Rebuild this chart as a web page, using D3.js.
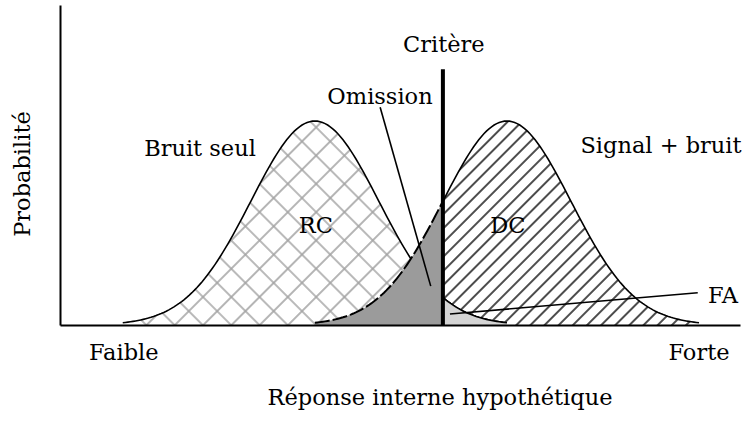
<!DOCTYPE html>
<html>
<head>
<meta charset="utf-8">
<script src="https://cdn.jsdelivr.net/npm/d3@7"></script>
<style>
  body { margin: 0; background: #fff; }
  text { font-family: "DejaVu Serif", serif; font-size: 22.5px; fill: #000; }
</style>
</head>
<body>
<div id="wrapper"></div>
<script>
// distributions (standard units)
const distNames = ["Bruit seul", "Signal + bruit"];
const distMeans = [0, 3];
const distSD = 1;
const distSpan = 3;        // curves drawn to +-3 sd
const criterion = 2;
const criterionTop = 0.5;  // height of the criterion bar
const areaNames = ["RC", "Omission", "DC", "FA"];
const axisLabels = ["Faible", "Forte"];

const width = 754;
const height = 421;

const svg = d3.select("#wrapper")
  .append("svg")
  .attr("width", width)
  .attr("height", height);

const xScale = d3.scaleLinear()
  .domain([-3.98, 6.64])
  .range([60, 740]);

const yScale = d3.scaleLinear()
  .domain([0, 0.6258])
  .range([325, 5]);

function pdf(x, m) {
  const z = (x - m) / distSD;
  return Math.exp(-0.5 * z * z) / (distSD * Math.sqrt(2 * Math.PI));
}
function samples(m, a, b) {
  const pts = d3.range(a, b, 0.04).map(x => [x, pdf(x, m)]);
  pts.push([b, pdf(b, m)]);
  return pts;
}

const area = d3.area()
  .x(d => xScale(d[0]))
  .y0(yScale(0))
  .y1(d => yScale(d[1]));
const line = d3.line()
  .x(d => xScale(d[0]))
  .y(d => yScale(d[1]));

// patterns
const defs = svg.append("defs");
const cross = defs.append("pattern")
  .attr("id", "cross")
  .attr("patternUnits", "userSpaceOnUse")
  .attr("width", 20).attr("height", 20)
  .attr("patternTransform", "translate(5,0) rotate(45)");
cross.append("path")
  .attr("d", "M0,10H20M10,0V20")
  .attr("stroke", "#a3a3a3")
  .attr("stroke-width", 1.6);

const hatch = defs.append("pattern")
  .attr("id", "hatch")
  .attr("patternUnits", "userSpaceOnUse")
  .attr("width", 10).attr("height", 10)
  .attr("patternTransform", "rotate(-45)");
hatch.append("path")
  .attr("d", "M0,5H10")
  .attr("stroke", "#000")
  .attr("stroke-width", 1.4);

const nM = distMeans[0], sM = distMeans[1];

// correct rejection (noise, left of criterion)
svg.append("path")
  .attr("d", area(samples(nM, nM - distSpan, criterion)))
  .attr("fill", "url(#cross)");

svg.append("path")
  .attr("d", line(samples(nM, nM - distSpan, nM + distSpan)))
  .attr("fill", "none")
  .attr("stroke", "#000")
  .attr("stroke-width", 1.6);

// miss (signal, left of criterion)
svg.append("path")
  .attr("d", area(samples(sM, sM - distSpan, criterion)))
  .attr("fill", "#9b9b9b");

svg.append("path")
  .attr("d", line(samples(sM, sM - distSpan, criterion)))
  .attr("fill", "none")
  .attr("stroke", "#000")
  .attr("stroke-width", 2)
  .attr("stroke-dasharray", "15,3");

// hit (signal, right of criterion)
svg.append("path")
  .attr("d", area(samples(sM, criterion, sM + distSpan)))
  .attr("fill", "url(#hatch)");

// false alarm (noise, right of criterion)
svg.append("path")
  .attr("d", area(samples(nM, criterion, nM + distSpan)))
  .attr("fill", "#d4d4d4");

svg.append("path")
  .attr("d", line(samples(nM, criterion, nM + distSpan)))
  .attr("fill", "none")
  .attr("stroke", "#000")
  .attr("stroke-width", 1.6);

svg.append("path")
  .attr("d", line(samples(sM, criterion, sM + distSpan)))
  .attr("fill", "none")
  .attr("stroke", "#000")
  .attr("stroke-width", 1.6);

// axes, no ticks
svg.append("g")
  .attr("transform", `translate(0,${yScale(0)})`)
  .call(d3.axisBottom(xScale).tickValues([]).tickSizeOuter(0))
  .select(".domain").attr("stroke-width", 2);
svg.append("g")
  .attr("transform", `translate(${xScale.range()[0]},0)`)
  .call(d3.axisLeft(yScale).tickValues([]).tickSizeOuter(0))
  .select(".domain").attr("stroke-width", 2);

// criterion
svg.append("line")
  .attr("x1", xScale(criterion)).attr("x2", xScale(criterion))
  .attr("y1", yScale(criterionTop)).attr("y2", yScale(0))
  .attr("stroke", "#000")
  .attr("stroke-width", 4);

// leader lines
svg.append("line")
  .attr("x1", xScale(1.02)).attr("y1", yScale(0.426))
  .attr("x2", xScale(1.81)).attr("y2", yScale(0.076))
  .attr("stroke", "#000").attr("stroke-width", 1.6);
svg.append("line")
  .attr("x1", xScale(2.11)).attr("y1", yScale(0.0215))
  .attr("x2", xScale(5.98)).attr("y2", yScale(0.063))
  .attr("stroke", "#000").attr("stroke-width", 1.6);

// labels
function label(txt, x, y, anchor) {
  svg.append("text")
    .attr("x", x).attr("y", y)
    .attr("text-anchor", anchor || "middle")
    .text(txt);
}
label("Critère", xScale(criterion) + 1, 52);
label(areaNames[1], 380, 104);
label(distNames[0], 200, 156);
label(distNames[1], 661, 153);
label(areaNames[0], xScale(nM) + 1, 233);
label(areaNames[2], xScale(sM) + 1, 233);
label(areaNames[3], 708, 303, "start");
label(axisLabels[0], xScale(nM - distSpan) + 1, 360);
label(axisLabels[1], xScale(sM + distSpan), 360);
label("Réponse interne hypothétique", 440, 405);

svg.append("text")
  .attr("transform", "translate(30,174) rotate(-90)")
  .attr("text-anchor", "middle")
  .text("Probabilité");
</script>
</body>
</html>
